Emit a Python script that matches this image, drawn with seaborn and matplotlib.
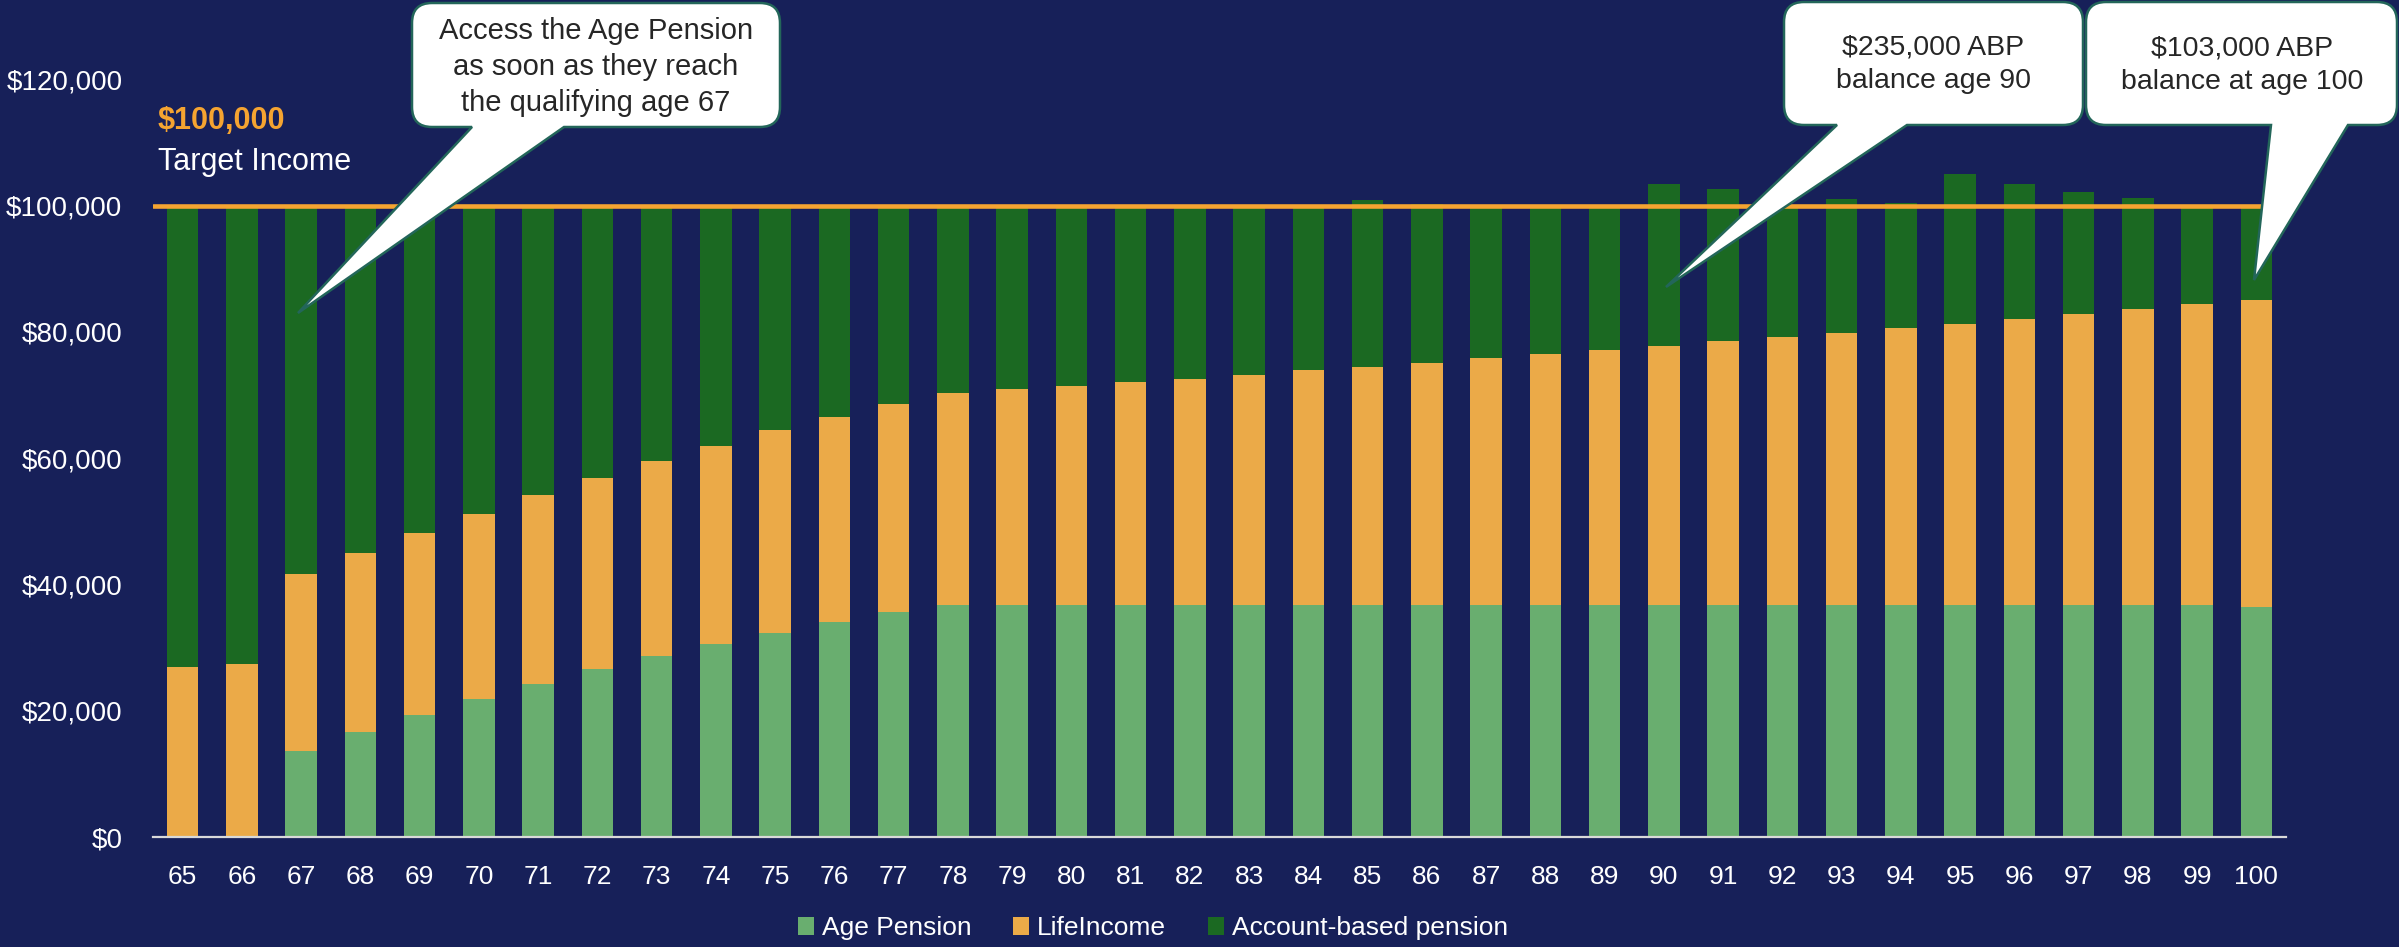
import numpy as np
import pandas as pd
import matplotlib
matplotlib.use("Agg")
import matplotlib.pyplot as plt
import seaborn as sns
from matplotlib.path import Path
from matplotlib.patches import PathPatch, Patch
from matplotlib.transforms import Affine2D
from matplotlib.ticker import FuncFormatter

# ---------------- data ----------------
ages = list(range(65, 101))
age_pension = [0, 0, 13.6, 16.6, 19.3, 21.8, 24.2, 26.6, 28.6, 30.6, 32.3, 34.0, 35.6,
               36.7, 36.7, 36.7, 36.7, 36.7, 36.7, 36.7, 36.7, 36.7, 36.7, 36.7, 36.7,
               36.7, 36.7, 36.7, 36.7, 36.7, 36.7, 36.7, 36.7, 36.7, 36.7, 36.5]
life_income = [26.9, 27.4, 28.1, 28.4, 28.9, 29.4, 30.0, 30.3, 31.0, 31.4, 32.1, 32.6,
               33.0, 33.6, 34.2, 34.7, 35.3, 35.9, 36.5, 37.2, 37.8, 38.4, 39.1, 39.8,
               40.4, 41.1, 41.8, 42.5, 43.2, 43.9, 44.6, 45.4, 46.1, 46.9, 47.7, 48.6]
account_based = [73.1, 72.6, 58.3, 55.0, 51.8, 48.8, 45.8, 43.1, 40.4, 38.0, 35.6, 33.4,
                 31.4, 29.7, 29.1, 28.6, 28.0, 27.4, 26.8, 26.1, 26.4, 25.2, 24.2, 23.5,
                 22.9, 25.7, 24.1, 20.8, 21.2, 19.9, 23.7, 21.4, 19.4, 17.6, 15.6, 14.9]
series_names = ["Age Pension", "LifeIncome", "Account-based pension"]
target_income = 100000
y_ticks = [0, 20000, 40000, 60000, 80000, 100000, 120000]
callout_texts = [
    "Access the Age Pension\nas soon as they reach\nthe qualifying age 67",
    "$235,000 ABP\nbalance age 90",
    "$103,000 ABP\nbalance at age 100",
]

# ---------------- style ----------------
BG = "#172059"
C_AP = "#69ae6f"
C_LI = "#ebaa48"
C_ABP = "#1b6922"
C_TARGET = "#f5a431"
EDGE = "#23665a"

sns.set_style("white")
plt.rcParams["font.family"] = ["Liberation Sans", "DejaVu Sans"]

W, H = 2399, 947
fig = plt.figure(figsize=(W / 100, H / 100), dpi=100, facecolor=BG)
ax = fig.add_axes([153 / W, 110 / H, (2286 - 153) / W, (837 - 79.4) / H])
ax.set_facecolor(BG)

df = pd.DataFrame({
    "Age": [str(a) for a in ages],
    "ap": np.array(age_pension) * 1000,
    "li": np.array(life_income) * 1000,
    "abp": np.array(account_based) * 1000,
})
df["c_li"] = df["ap"] + df["li"]
df["c_all"] = df["c_li"] + df["abp"]

order = df["Age"].tolist()
for col, colr in [("c_all", C_ABP), ("c_li", C_LI), ("ap", C_AP)]:
    sns.barplot(data=df, x="Age", y=col, order=order, color=colr, saturation=1,
                width=0.53, errorbar=None, ax=ax, linewidth=0, zorder=2)

ax.axhline(target_income, color=C_TARGET, lw=3.3, zorder=3)

ax.set_xlim(-0.5, len(ages) - 0.5)
ax.set_ylim(0, 120000)
ax.set_yticks(y_ticks)
ax.yaxis.set_major_formatter(FuncFormatter(lambda v, p: f"${v:,.0f}"))
ax.set_xlabel("")
ax.set_ylabel("")
for s in ["top", "right", "left"]:
    ax.spines[s].set_visible(False)
ax.spines["bottom"].set_color("#d9d9d9")
ax.spines["bottom"].set_linewidth(1.6)
ax.tick_params(axis="y", colors="white", labelsize=20, length=0, pad=22)
ax.tick_params(axis="x", colors="white", labelsize=19, length=0, pad=20)
ax.grid(False)

# legend
handles = [Patch(facecolor=c, edgecolor="none") for c in (C_AP, C_LI, C_ABP)]
leg = fig.legend(handles, series_names, loc="center", bbox_to_anchor=(1153 / W, 1 - 928 / H),
                 ncol=3, frameon=False, fontsize=19, labelcolor="white",
                 handlelength=0.6, handleheight=0.65, handletextpad=0.3, columnspacing=1.6)

# target annotation
fig.text(158 / W, 1 - 121 / H, "$100,000", color=C_TARGET, fontsize=22, fontweight="bold",
         ha="left", va="center")
fig.text(158 / W, 1 - 162 / H, "Target Income", color="white", fontsize=22,
         ha="left", va="center")

# callouts (pixel coordinates, y downward)
T = Affine2D().scale(1 / W, -1 / H).translate(0, 1) + fig.transFigure


def callout(x0, y0, x1, y1, bx0, bx1, tx, ty, r=20):
    verts = [(x0 + r, y0), (x1 - r, y0), (x1, y0), (x1, y0 + r), (x1, y1 - r), (x1, y1),
             (x1 - r, y1), (bx1, y1), (tx, ty), (bx0, y1), (x0 + r, y1), (x0, y1),
             (x0, y1 - r), (x0, y0 + r), (x0, y0), (x0 + r, y0), (x0 + r, y0)]
    codes = [Path.MOVETO, Path.LINETO, Path.CURVE3, Path.CURVE3, Path.LINETO, Path.CURVE3,
             Path.CURVE3, Path.LINETO, Path.LINETO, Path.LINETO, Path.LINETO, Path.CURVE3,
             Path.CURVE3, Path.LINETO, Path.CURVE3, Path.CURVE3, Path.CLOSEPOLY]
    p = PathPatch(Path(verts, codes), transform=T, facecolor="white", edgecolor=EDGE,
                  lw=1.8, zorder=10)
    fig.add_artist(p)


callout(412, 3, 780, 127, 472, 564, 298, 313)
callout(1784, 2, 2083, 125, 1837, 1907, 1666, 287)
callout(2086, 2, 2397, 125, 2271, 2348, 2254, 280)

fig.text(596 / W, 1 - 67 / H, callout_texts[0], color="#262626", fontsize=21,
         ha="center", va="center", linespacing=1.36, zorder=11)
fig.text(1933 / W, 1 - 64 / H, callout_texts[1], color="#262626", fontsize=20.5,
         ha="center", va="center", linespacing=1.36, zorder=11)
fig.text(2242 / W, 1 - 65 / H, callout_texts[2], color="#262626", fontsize=20.5,
         ha="center", va="center", linespacing=1.36, zorder=11)

fig.savefig("out.png", dpi=100, facecolor=BG)
